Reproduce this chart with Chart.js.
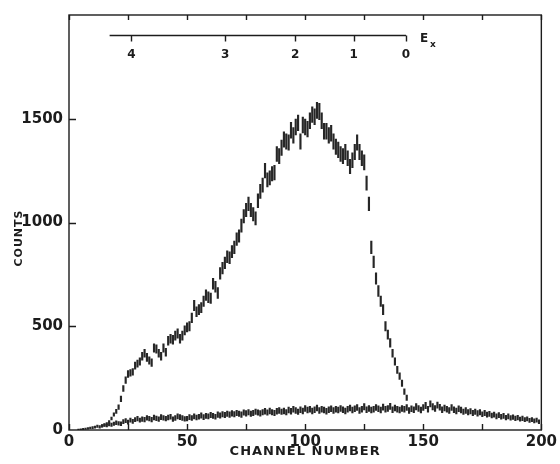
<!DOCTYPE html>
<html>
<head>
<meta charset="utf-8">
<script src="https://cdn.jsdelivr.net/npm/chart.js@4"></script>
<style>
  html, body { margin: 0; padding: 0; background: #fff; }
</style>
</head>
<body>
<canvas id="chart" width="560" height="464"></canvas>
<script>
// ── Data ──────────────────────────────────────────────────────────────────────

// main spectrum, one value per channel starting at mainFirst
const mainFirst = 14;
const mainCounts = [
  20, 24, 30, 40, 55, 75,
  90, 110, 150, 200, 240, 270, 275, 280, 310, 320,
  330, 355, 370, 350, 335, 325, 395, 390, 370, 355,
  395, 375, 430, 440, 435, 455, 465, 440, 455, 480,
  495, 500, 540, 600, 570, 580, 590, 620, 650, 640,
  635, 705, 690, 660, 755, 780, 805, 835, 830, 860,
  880, 920, 935, 985, 1030, 1060, 1090, 1060, 1040, 1020,
  1105, 1150, 1180, 1250, 1205, 1215, 1235, 1240, 1330, 1320,
  1360, 1400, 1390, 1385, 1445, 1420, 1460, 1480, 1390, 1470,
  1460, 1450, 1490, 1520, 1510, 1540, 1535, 1490, 1440, 1440,
  1420, 1430, 1390, 1365, 1350, 1330, 1320, 1340, 1310, 1270,
  1300, 1340, 1385, 1340, 1310, 1290, 1190, 1090, 880, 810,
  730, 670, 620, 580, 500, 460, 420, 370, 330, 290,
  260, 225, 185, 155
];
const mainErr = [
  5, 5, 6, 6, 7, 8,
  10, 11, 13, 14, 16, 16, 16, 16, 17, 17,
  18, 19, 19, 19, 18, 18, 20, 20, 19, 19,
  20, 19, 21, 21, 21, 22, 22, 21, 22, 22,
  22, 22, 23, 25, 24, 24, 24, 25, 26, 26,
  25, 26, 26, 26, 28, 28, 28, 29, 29, 29,
  30, 30, 30, 31, 32, 32, 33, 32, 32, 32,
  33, 34, 34, 35, 34, 34, 35, 35, 36, 36,
  37, 37, 37, 37, 38, 38, 38, 38, 37, 38,
  38, 38, 38, 38, 38, 39, 39, 38, 38, 38,
  38, 38, 37, 37, 37, 36, 36, 37, 36, 35,
  36, 37, 37, 37, 36, 36, 34, 33, 30, 28,
  27, 26, 25, 24, 22, 22, 21, 19, 18, 17,
  16, 15, 14, 13
];

// background run, one value per channel starting at bgFirst
const bgFirst = 4;
const bgCounts = [
  3, 4, 5, 6, 8, 10,
  12, 14, 18, 15, 20, 24, 22, 28, 25, 30,
  35, 32, 30, 40, 45, 38, 48, 42, 50, 55,
  48, 52, 50, 58, 55, 50, 60, 56, 52, 62,
  58, 55, 60, 64, 52, 58, 66, 62, 58, 54,
  55, 62, 58, 66, 60, 64, 70, 62, 68, 66,
  72, 68, 64, 74, 70, 76, 72, 78, 74, 80,
  76, 82, 78, 74, 84, 80, 86, 78, 82, 88,
  84, 80, 86, 90, 84, 92, 86, 82, 90, 94,
  88, 92, 86, 96, 90, 100, 94, 88, 98, 92,
  104, 96, 100, 92, 98, 106, 94, 100, 96, 90,
  98, 102, 94, 100, 96, 104, 98, 92, 100, 106,
  96, 102, 108, 94, 100, 112, 98, 104, 96, 100,
  108, 102, 96, 110, 100, 104, 114, 98, 106, 100,
  96, 104, 100, 108, 94, 102, 98, 112, 104, 96,
  108, 118, 100, 126, 112, 104, 120, 110, 98, 106,
  100, 94, 108, 98, 92, 102, 96, 88, 94, 86,
  90, 82, 88, 80, 86, 76, 82, 74, 78, 70,
  74, 66, 72, 64, 68, 60, 66, 58, 62, 56,
  60, 52, 56, 50, 54, 46, 50, 44, 48, 40
];
const bgErr = [
  2, 2, 3, 3, 4, 4,
  5, 5, 6, 6, 6, 7, 7, 8, 8, 8,
  9, 9, 9, 10, 10, 10, 10, 10, 10, 11,
  10, 11, 11, 11, 11, 11, 12, 11, 11, 12,
  11, 11, 12, 12, 11, 12, 12, 12, 12, 11,
  11, 12, 12, 12, 12, 12, 13, 12, 12, 12,
  13, 12, 12, 13, 13, 13, 13, 13, 13, 13,
  13, 13, 13, 13, 13, 13, 13, 13, 13, 13,
  13, 13, 13, 14, 13, 14, 13, 13, 14, 14,
  13, 14, 13, 14, 14, 14, 14, 13, 14, 14,
  14, 14, 14, 14, 14, 14, 14, 14, 14, 14,
  14, 14, 14, 14, 14, 14, 14, 14, 14, 14,
  14, 14, 14, 14, 14, 15, 14, 14, 14, 14,
  14, 14, 14, 15, 14, 14, 15, 14, 14, 14,
  14, 14, 14, 14, 14, 14, 14, 15, 14, 14,
  14, 15, 14, 15, 15, 14, 15, 14, 14, 14,
  14, 14, 14, 14, 14, 14, 14, 13, 14, 13,
  13, 13, 13, 13, 13, 12, 13, 12, 12, 12,
  12, 12, 12, 12, 12, 11, 12, 11, 11, 11,
  11, 10, 11, 10, 10, 10, 10, 10, 10, 9
];

// excitation energy scale drawn inside the frame (channel of each label)
const exLabels   = ['4', '3', '2', '1', '0'];
const exChannels = [26.4, 66.1, 95.8, 120.5, 142.7];
const exLineFrom = 17.2;

const xTickStep = 50, xMinorStep = 25;
const yTickStep = 500;

// ── Helpers ───────────────────────────────────────────────────────────────────

const INK  = '#1c1c1c';
const FAMILY = '"DejaVu Sans", sans-serif';

function toBars(first, counts, errs) {
  return counts.map((v, i) => ({ x: first + i, y: [v - errs[i], v + errs[i]] }));
}

const framePlugin = {
  id: 'frame',
  beforeDraw(chart) {
    const ctx = chart.ctx;
    ctx.save();
    ctx.fillStyle = '#fff';
    ctx.fillRect(0, 0, chart.width, chart.height);
    ctx.restore();
  },
  afterDatasetsDraw(chart) {
    const { ctx, chartArea: a, scales: { x, y } } = chart;
    ctx.save();
    ctx.strokeStyle = INK;
    ctx.lineWidth = 1.4;
    ctx.strokeRect(a.left, a.top, a.right - a.left, a.bottom - a.top);

    // inward ticks on bottom, top and left
    ctx.beginPath();
    for (let c = 0; c <= 200; c += xMinorStep) {
      const px = Math.round(x.getPixelForValue(c)) + 0.5;
      ctx.moveTo(px, a.bottom); ctx.lineTo(px, a.bottom - 6);
      ctx.moveTo(px, a.top);    ctx.lineTo(px, a.top + 5);
    }
    for (let v = yTickStep; v < 2000; v += yTickStep) {
      const py = Math.round(y.getPixelForValue(v)) + 0.5;
      ctx.moveTo(a.left, py); ctx.lineTo(a.left + 7, py);
    }
    ctx.stroke();

    // E_x scale
    const ly = a.top + 20.5;
    ctx.beginPath();
    ctx.moveTo(x.getPixelForValue(exLineFrom), ly);
    ctx.lineTo(x.getPixelForValue(exChannels[exChannels.length - 1]), ly);
    exChannels.forEach(c => {
      const px = Math.round(x.getPixelForValue(c)) + 0.5;
      ctx.moveTo(px, ly); ctx.lineTo(px, ly + 6);
    });
    ctx.stroke();

    ctx.fillStyle = INK;
    ctx.font = 'bold 12px ' + FAMILY;
    ctx.textAlign = 'center';
    ctx.textBaseline = 'middle';
    exLabels.forEach((t, i) => ctx.fillText(t, x.getPixelForValue(exChannels[i]), ly + 19));

    const ex = x.getPixelForValue(exChannels[exChannels.length - 1]);
    ctx.textAlign = 'left';
    ctx.fillText('E', ex + 14, ly + 3);
    ctx.font = 'bold 9px ' + FAMILY;
    ctx.fillText('x', ex + 24, ly + 9);

    // axis titles
    ctx.font = 'bold 13px ' + FAMILY;
    ctx.textAlign = 'center';
    ctx.letterSpacing = '1px';
    ctx.fillText('CHANNEL NUMBER', (a.left + a.right) / 2, 452);
    ctx.font = 'bold 11px ' + FAMILY;
    ctx.translate(19, 238);
    ctx.rotate(-Math.PI / 2);
    ctx.fillText('COUNTS', 0, 0);
    ctx.restore();
  }
};

// ── Chart ─────────────────────────────────────────────────────────────────────

const barStyle = {
  type: 'bar',
  backgroundColor: '#262626',
  borderWidth: 0,
  barThickness: 1.5,
  grouped: false
};

new Chart(document.getElementById('chart'), {
  type: 'bar',
  data: {
    datasets: [
      { ...barStyle, label: 'spectrum',   data: toBars(mainFirst, mainCounts, mainErr) },
      { ...barStyle, label: 'background', data: toBars(bgFirst, bgCounts, bgErr) }
    ]
  },
  options: {
    responsive: false,
    animation: false,
    layout: { padding: { left: 10, right: 15, top: 12, bottom: 0 } },
    plugins: { legend: { display: false }, tooltip: { enabled: false } },
    scales: {
      x: {
        type: 'linear', min: 0, max: 200, offset: false,
        grid: { display: false, drawTicks: false },
        border: { display: false },
        ticks: { stepSize: xTickStep, color: INK, padding: 3, maxRotation: 0,
                 font: { family: FAMILY, size: 15, weight: 'bold' } },
        afterFit: s => { s.height = 34; }
      },
      y: {
        min: 0, max: 2000,
        grid: { display: false, drawTicks: false },
        border: { display: false },
        ticks: { stepSize: yTickStep, color: INK, padding: 6,
                 callback: v => (v < 2000 ? v : ''),
                 font: { family: FAMILY, size: 15, weight: 'bold' } },
        afterFit: s => { s.width = 59; }
      }
    }
  },
  plugins: [framePlugin]
});
</script>
</body>
</html>
